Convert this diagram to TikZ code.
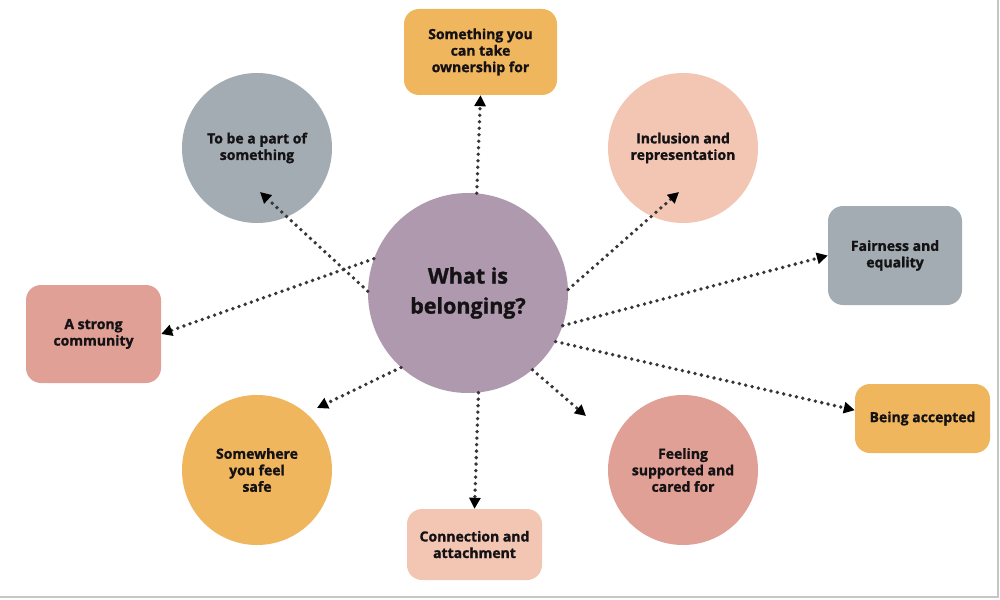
\documentclass[tikz,border=0pt]{standalone}
\usepackage{fontspec}
\setmainfont{Open Sans}[BoldFeatures={FakeBold=1.2}]
\usetikzlibrary{arrows.meta}

\definecolor{hubpurple}{HTML}{AE99AE}
\definecolor{amber}{HTML}{EFB65D}
\definecolor{slate}{HTML}{A3ACB2}
\definecolor{peach}{HTML}{F2C6B3}
\definecolor{rose}{HTML}{E0A096}
\definecolor{ink}{HTML}{141214}
\definecolor{dotgray}{HTML}{363636}

\tikzset{
  label text/.style={align=center, text=ink, font=\bfseries\fontsize{14}{16.5}\selectfont},
  bubble/.style={circle, inner sep=0pt, minimum size=150pt, label text},
  card/.style={rectangle, rounded corners=15pt, inner sep=0pt, label text},
  link/.style={draw=dotgray, line width=3.8pt, line cap=round,
    dash pattern=on 0pt off 6.5pt,
    -{Triangle[length=11pt,width=11pt,color=black]}}
}

\begin{document}
\begin{tikzpicture}[x=1pt,y=-1pt]
  \useasboundingbox (0,0) rectangle (1000,599);
  \fill[white] (0,0) rectangle (1000,599);
  \draw[gray!45, line width=1.5pt] (0,597) -- (998,597) -- (998,0);

  % centre
  \node[circle, fill=hubpurple, minimum size=200pt, inner sep=0pt, align=center,
    text=ink, font=\bfseries\fontsize{21.5}{30}\selectfont] (hub) at (468,293) {What is\\belonging?};

  % round bubbles
  \node[bubble, fill=slate] (part) at (257,148) {To be a part of\\something};
  \node[bubble, fill=peach] (incl) at (683,148) {Inclusion and\\representation};
  \node[bubble, fill=amber] (safe) at (257,470) {Somewhere\\you feel\\safe};
  \node[bubble, fill=rose] (feel) at (683,470) {Feeling\\supported and\\cared for};

  % cards
  \node[card, fill=amber, minimum width=153pt, minimum height=86pt] (own) at (480.5,52) {Something you\\can take\\ownership for};
  \node[card, fill=slate, minimum width=134pt, minimum height=99pt] (fair) at (895,255.5) {Fairness and\\equality};
  \node[card, fill=rose, minimum width=135pt, minimum height=98pt] (strong) at (93.5,334) {A strong\\community};
  \node[card, fill=amber, minimum width=135pt, minimum height=69pt] (accept) at (922.5,418.5) {Being accepted};
  \node[card, fill=peach, minimum width=135pt, minimum height=71pt] (conn) at (474.5,544.5) {Connection and\\attachment};

  % free arrow ends
  \coordinate (tPart) at (260,192);
  \coordinate (tIncl) at (679,192);
  \coordinate (tFeel) at (586,416);
  \coordinate (tSafe) at (317,408);

  \draw[link] (hub.85) -- (own.south);
  \draw[link] (hub.179) -- (tPart);
  \draw[link] (hub.2) -- (tIncl);
  \draw[link] (hub.-19) -- (fair.west);
  \draw[link] (hub.-29) -- (accept.173);
  \draw[link] (hub.-50) -- (tFeel);
  \draw[link] (hub.-84) -- (conn.north);
  \draw[link] (hub.228) -- (tSafe);
  \draw[link] (hub.160) -- (strong.east);
\end{tikzpicture}
\end{document}
